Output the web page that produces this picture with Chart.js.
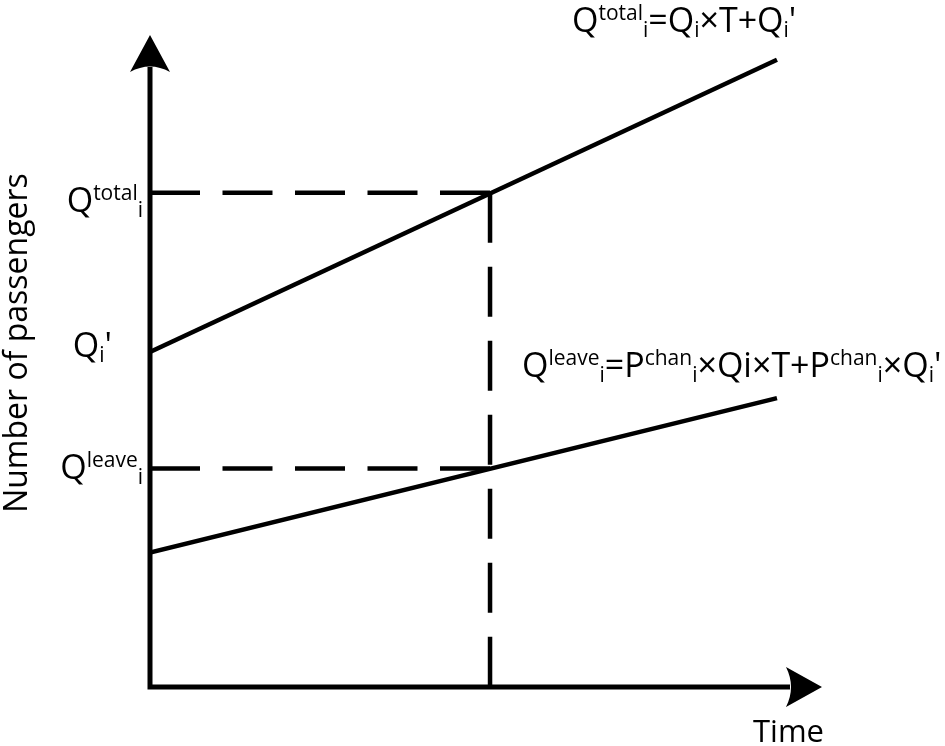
<!DOCTYPE html>
<html>
<head>
<meta charset="utf-8">
<script src="https://cdn.jsdelivr.net/npm/chart.js@4/dist/chart.umd.min.js"></script>
<style>
  html, body { margin: 0; padding: 0; background: #fff; }
  #wrap { width: 945px; height: 746px; }
</style>
</head>
<body>
<div id="wrap"><canvas id="diagram" width="945" height="746"></canvas></div>
<script>
// axis extents (arbitrary units)
const xRange = [0, 10];
const yRange = [0, 10];

// Q_total line and Q_leave line
const totalX = [0, 9.33];
const totalY = [5.14, 9.62];
const leaveX = [0, 9.33];
const leaveY = [2.06, 4.43];

// the moment T and the values read at T
const markT = 5.06;
const totalAtT = 7.58;
const leaveAtT = 3.35;

const FONT = '"Open Sans", "Noto Sans", sans-serif';
const BIG = 34, SMALL = 21;

function pts(xs, ys) {
    return xs.map((x, i) => ({ x: x, y: ys[i] }));
}

// draw text made of normal / superscript / subscript pieces
function richWidth(ctx, parts) {
    let w = 0;
    parts.forEach(p => {
        ctx.font = (p[1] === 'n' ? BIG : SMALL) + 'px ' + FONT;
        w += ctx.measureText(p[0]).width;
    });
    return w;
}
function drawRich(ctx, x, y, parts, align) {
    if (align === 'right') x -= richWidth(ctx, parts);
    ctx.textBaseline = 'alphabetic';
    ctx.textAlign = 'left';
    parts.forEach(p => {
        let dy = 0;
        if (p[1] === 'n') ctx.font = BIG + 'px ' + FONT;
        else {
            ctx.font = SMALL + 'px ' + FONT;
            dy = p[1] === 'sup' ? -12 : 5;
        }
        ctx.fillText(p[0], x, y + dy);
        x += ctx.measureText(p[0]).width;
    });
}

const axesAndText = {
    id: 'axesAndText',
    afterDatasetsDraw(chart) {
        const ctx = chart.ctx;
        const xs = chart.scales.x, ys = chart.scales.y;
        const x0 = xs.getPixelForValue(xRange[0]);
        const y0 = ys.getPixelForValue(yRange[0]);
        const xEnd = xs.getPixelForValue(xRange[1]);
        const yEnd = ys.getPixelForValue(yRange[1]);
        ctx.save();
        ctx.strokeStyle = '#000';
        ctx.fillStyle = '#000';
        ctx.lineWidth = 5;
        ctx.lineCap = 'butt';

        // axes
        ctx.beginPath();
        ctx.moveTo(x0, y0 + 2.5);
        ctx.lineTo(x0, yEnd + 32);
        ctx.moveTo(x0 - 2.5, y0);
        ctx.lineTo(xEnd - 32, y0);
        ctx.stroke();

        // arrow heads
        ctx.beginPath();
        ctx.moveTo(x0, yEnd);
        ctx.lineTo(x0 + 20, yEnd + 37);
        ctx.quadraticCurveTo(x0, yEnd + 26, x0 - 20, yEnd + 37);
        ctx.closePath();
        ctx.fill();
        ctx.beginPath();
        ctx.moveTo(xEnd, y0);
        ctx.lineTo(xEnd - 36, y0 - 20);
        ctx.quadraticCurveTo(xEnd - 26, y0, xEnd - 36, y0 + 20);
        ctx.closePath();
        ctx.fill();

        // axis titles
        ctx.font = '31px ' + FONT;
        ctx.textAlign = 'left';
        ctx.textBaseline = 'alphabetic';
        ctx.fillText('Time', 753, 742);
        ctx.save();
        ctx.translate(27, 343);
        ctx.rotate(-Math.PI / 2);
        ctx.font = '32px ' + FONT;
        ctx.textAlign = 'center';
        ctx.fillText('Number of passengers', 0, 0);
        ctx.restore();

        // left labels
        drawRich(ctx, 143, ys.getPixelForValue(totalAtT) + 19,
            [['Q', 'n'], ['total', 'sup'], ['i', 'sub']], 'right');
        drawRich(ctx, 112, ys.getPixelForValue(totalY[0]) + 5,
            [['Q', 'n'], ['i', 'sub'], ["'", 'n']], 'right');
        drawRich(ctx, 143, ys.getPixelForValue(leaveAtT) + 10,
            [['Q', 'n'], ['leave', 'sup'], ['i', 'sub']], 'right');

        // formulas
        drawRich(ctx, 572, 32, [
            ['Q', 'n'], ['total', 'sup'], ['i', 'sub'], ['=Q', 'n'], ['i', 'sub'],
            ['×T+Q', 'n'], ['i', 'sub'], ["'", 'n']
        ], 'left');
        drawRich(ctx, 522, 377, [
            ['Q', 'n'], ['leave', 'sup'], ['i', 'sub'], ['=P', 'n'], ['chan', 'sup'],
            ['i', 'sub'], ['×Qi×T+P', 'n'], ['chan', 'sup'], ['i', 'sub'],
            ['×Q', 'n'], ['i', 'sub'], ["'", 'n']
        ], 'left');
        ctx.restore();
    }
};

const dashH = [50, 22.5];
const dashV = [50, 24];

new Chart(document.getElementById('diagram').getContext('2d'), {
    type: 'scatter',
    data: {
        datasets: [
            { data: pts(totalX, totalY) },
            { data: pts(leaveX, leaveY) },
            { data: pts([xRange[0], markT], [totalAtT, totalAtT]), borderDash: dashH },
            { data: pts([xRange[0], markT], [leaveAtT, leaveAtT]), borderDash: dashH },
            { data: pts([markT, markT], [totalAtT, yRange[0]]), borderDash: dashV }
        ].map(d => Object.assign({
            showLine: true,
            borderColor: '#000',
            borderWidth: 4.5,
            pointRadius: 0,
            fill: false
        }, d))
    },
    options: {
        responsive: false,
        animation: false,
        layout: { padding: { left: 150, right: 123, top: 35, bottom: 59 } },
        plugins: { legend: { display: false }, tooltip: { enabled: false } },
        scales: {
            x: { type: 'linear', display: false, min: xRange[0], max: xRange[1] },
            y: { type: 'linear', display: false, min: yRange[0], max: yRange[1] }
        }
    },
    plugins: [axesAndText]
});
</script>
</body>
</html>
